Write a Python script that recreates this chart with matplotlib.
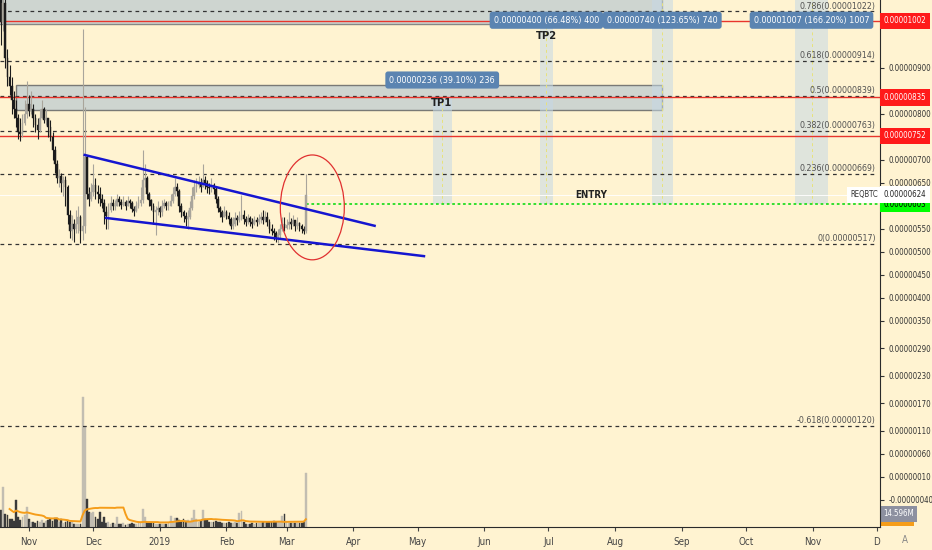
import pandas as pd
import matplotlib
matplotlib.use('Agg')
import matplotlib.pyplot as plt
import matplotlib.dates as mdates
import matplotlib.transforms as mtransforms
from matplotlib import font_manager
from matplotlib.patches import Rectangle, Ellipse

# narrow font if there is one, else Liberation Sans
has_cond = any(f.name == 'DejaVu Sans' and f.stretch == 'condensed'
               for f in font_manager.fontManager.ttflist)
if has_cond:
    plt.rcParams['font.family'] = ['DejaVu Sans']
    plt.rcParams['font.stretch'] = 'condensed'
    fs = 1.0
else:
    plt.rcParams['font.family'] = ['Liberation Sans', 'DejaVu Sans']
    fs = 0.92

# REQ/BTC daily candles, prices in satoshi (1e-8 BTC)
start_day = '2018-10-19'
first_open = 1080
close = [1000, 1040, 920, 880, 860, 830, 810, 790, 760, 755,
         780, 800, 820, 805, 810, 790, 775, 765, 790, 810,
         785, 790, 770, 750, 720, 690, 660, 665, 650, 655,
         640, 580, 545, 560, 550, 560, 575, 545, 555, 705,
         625, 615, 630, 645, 630, 625, 615, 605, 585, 578,
         590, 605, 598, 600, 615, 608, 602, 608, 600, 610,
         605, 592, 588, 598, 605, 612, 655, 660, 625, 612,
         600, 585, 590, 595, 585, 600, 605, 598, 600, 610,
         625, 640, 632, 600, 585, 578, 570, 575, 595, 620,
         640, 645, 650, 640, 655, 648, 640, 638, 645, 635,
         615, 595, 585, 575, 585, 578, 570, 555, 560, 572,
         568, 575, 580, 570, 565, 572, 565, 560, 568, 565,
         570, 575, 568, 575, 565, 550, 545, 540, 532, 535,
         548, 560, 552, 558, 565, 560, 568, 555, 562, 555,
         548, 545, 624]
high = [1100, 1150, 1100, 940, 905, 880, 850, 830, 800, 790,
        800, 830, 870, 840, 850, 820, 800, 790, 810, 830,
        815, 810, 790, 785, 760, 730, 700, 680, 670, 665,
        665, 645, 590, 580, 570, 590, 600, 580, 985, 815,
        710, 640, 650, 690, 660, 645, 640, 625, 615, 600,
        605, 620, 615, 612, 625, 620, 615, 620, 612, 620,
        615, 610, 600, 610, 620, 640, 720, 690, 665, 630,
        615, 605, 600, 610, 600, 612, 615, 610, 610, 625,
        640, 660, 650, 635, 605, 590, 585, 590, 610, 640,
        655, 660, 665, 660, 690, 665, 655, 650, 660, 650,
        640, 620, 600, 590, 600, 590, 585, 575, 575, 585,
        580, 588, 622, 590, 578, 582, 578, 572, 578, 575,
        582, 585, 590, 588, 585, 570, 560, 552, 545, 548,
        560, 575, 575, 570, 585, 572, 580, 568, 575, 565,
        560, 555, 668]
low = [950, 980, 900, 860, 840, 800, 790, 770, 745, 740,
       750, 775, 790, 795, 800, 770, 760, 745, 760, 790,
       780, 775, 750, 740, 700, 670, 650, 640, 630, 620,
       600, 560, 530, 525, 520, 540, 540, 518, 525, 540,
       615, 600, 610, 620, 615, 605, 600, 595, 560, 550,
       548, 585, 590, 590, 600, 598, 592, 598, 590, 600,
       595, 585, 578, 585, 595, 600, 605, 640, 615, 600,
       590, 560, 537, 580, 575, 578, 595, 590, 590, 598,
       605, 620, 620, 585, 575, 565, 555, 548, 570, 590,
       615, 630, 638, 630, 640, 635, 628, 625, 630, 625,
       605, 585, 575, 565, 575, 570, 560, 548, 550, 555,
       558, 565, 568, 560, 555, 560, 555, 552, 558, 555,
       560, 562, 560, 565, 555, 540, 535, 525, 520, 518,
       530, 545, 545, 548, 550, 548, 555, 545, 550, 545,
       540, 538, 540]
# relative volume (~1.46M REQ per unit)
volume = [17, 40, 13, 12, 8, 8, 6, 27, 10, 7,
          10, 12, 20, 8, 5, 5, 4, 6, 5, 7,
          4, 6, 7, 8, 6, 9, 9, 5, 8, 4,
          5, 6, 5, 5, 3, 3, 3, 3, 130, 100,
          28, 15, 14, 15, 10, 8, 15, 5, 10, 4,
          5, 3, 4, 3, 10, 3, 3, 4, 2, 3,
          3, 4, 3, 3, 4, 5, 18, 10, 5, 4,
          4, 4, 3, 3, 3, 3, 3, 3, 4, 11,
          5, 9, 9, 7, 6, 8, 6, 7, 5, 9,
          17, 8, 5, 6, 17, 8, 7, 5, 5, 5,
          6, 5, 5, 4, 4, 4, 5, 4, 4, 5,
          4, 14, 16, 5, 3, 3, 3, 4, 3, 4,
          4, 4, 5, 4, 5, 5, 5, 6, 5, 5,
          5, 11, 13, 5, 4, 4, 4, 4, 4, 4,
          4, 5, 54]

# fibonacci retracement
fib_levels = [1022, 914, 839, 763, 669, 517, 120]
fib_ratios = ['0.786', '0.618', '0.5', '0.382', '0.236', '0', '-0.618']
red_levels = [1002, 835, 752]
entry_price = 603
last_price = 624

# price range tools (targets from the entry)
range_start = ['2019-05-08', '2019-06-27', '2019-08-18', '2019-10-24']
range_end = ['2019-05-17', '2019-07-03', '2019-08-28', '2019-11-08']
range_size = [236, 400, 740, 1007]
range_pct = [39.10, 66.48, 123.65, 166.20]

# falling wedge
upper_dates = ['2018-11-27', '2019-04-11']
upper_prices = [710, 556]
lower_dates = ['2018-12-07', '2019-05-04']
lower_prices = [573, 490]

price_ticks = [900, 800, 700, 650, 550, 500, 450, 400, 350, 290, 230, 170, 110, 60, 10, -40]
month_ticks = ['2018-11-01', '2018-12-01', '2019-01-01', '2019-02-01', '2019-03-01', '2019-04-01',
               '2019-05-01', '2019-06-01', '2019-07-01', '2019-08-01', '2019-09-01', '2019-10-01',
               '2019-11-01', '2019-12-01']
month_labels = ['Nov', 'Dec', '2019', 'Feb', 'Mar', 'Apr', 'May', 'Jun', 'Jul', 'Aug', 'Sep', 'Oct', 'Nov', 'D']


def dnum(s):
    return mdates.date2num(pd.Timestamp(s))


dates = pd.date_range(start_day, periods=len(close), freq='D')
x = mdates.date2num(dates)
opens = [first_open] + close[:-1]
up = [c >= o for c, o in zip(close, opens)]
candle_col = ['#a9a59b' if u else '#1c1c1c' for u in up]
vol_col = ['#c2bdb1' if u else '#3a3a3a' for u in up]

axis_fs = 5.7 * fs

bg = '#fff3d1'
fig = plt.figure(figsize=(9.32, 5.5), dpi=100, facecolor=bg)
ax = fig.add_axes([0, 23 / 550, 880 / 932, 527 / 550])
ax2 = ax.twinx()
ax.set_zorder(2)
ax.patch.set_visible(False)
ax2.patch.set_visible(False)

x_left = dnum(start_day) - 0.47
x_right = x_left + 880 / 2.147
ax.set_xlim(x_left, x_right)
ax.set_ylim(-99, 1047)
ax2.set_ylim(0, 527)

blend = mtransforms.blended_transform_factory(ax.transAxes, ax.transData)

# volume + moving average
ax2.bar(x, volume, width=0.85, color=vol_col, edgecolor=vol_col, linewidth=0.3)
vol_ma = pd.Series(volume).rolling(20, min_periods=5).mean()
ax2.plot(x, vol_ma, color='#f59d1a', lw=1.4)
ax2.set_yticks([])
for s in ax2.spines.values():
    s.set_visible(False)

# zones
zone_col = '#c6d0d0'
ax.add_patch(Rectangle((dnum('2018-10-10'), 995), dnum('2019-08-23') - dnum('2018-10-10'), 200,
                       fc=zone_col, ec='#777777', lw=1, alpha=0.85, zorder=1))
ax.add_patch(Rectangle((dnum('2018-10-26'), 808), dnum('2019-08-23') - dnum('2018-10-26'), 54,
                       fc=zone_col, ec='#666666', lw=1, alpha=0.85, zorder=1))

# range columns
label_y = [873, 1003, 1003, 1003]
for s, e, size, pct, ly in zip(range_start, range_end, range_size, range_pct, label_y):
    x0, x1 = dnum(s), dnum(e)
    ax.add_patch(Rectangle((x0, entry_price), x1 - x0, size, fc='#c5d8e6', ec='none',
                           alpha=0.55, zorder=1.5))
    xc = (x0 + x1) / 2
    ax.vlines(xc, entry_price, entry_price + size, colors='#e8e27a', lw=0.7,
              linestyles=(0, (3, 3)), zorder=1.6)
    ax.text(xc, ly, f'{size * 1e-8:.8f} ({pct:.2f}%) {size}', ha='center', va='center',
            fontsize=6.5 * fs, color='white', zorder=8,
            bbox=dict(boxstyle='round,pad=0.45,rounding_size=0.3', fc='#5b84b1', ec='none'))

# fib levels
for lvl, r in zip(fib_levels, fib_ratios):
    ax.axhline(lvl, xmin=0, xmax=0.995, color='#333333', lw=0.9, ls=(0, (3, 3)), zorder=2)
    ax.text(0.995, lvl + 2, f'{r}({lvl * 1e-8:.8f})', transform=blend, ha='right', va='bottom',
            fontsize=6.3 * fs, color='#505050', zorder=6)

# red levels
for lvl in red_levels:
    ax.axhline(lvl, color='#e8352c', lw=1.0, zorder=2.5)
    ax.text(1.004, lvl, f'{lvl * 1e-8:.8f}', transform=blend, ha='left', va='center',
            fontsize=axis_fs, color='white', clip_on=False, zorder=9,
            bbox=dict(boxstyle='square,pad=0.45', fc='#ff1a1a', ec='none'))

# last price line
ax.axhline(last_price, color='white', lw=0.7, alpha=0.9, zorder=1.8)

# entry
ax.hlines(entry_price, x[-1], x_right, colors='#22dd22', lw=1.3, linestyles=(0, (1.5, 1.5)), zorder=3)
ax.text(1.004, entry_price, f'{entry_price * 1e-8:.8f}', transform=blend, ha='left', va='center',
        fontsize=axis_fs, color='black', clip_on=False, zorder=9,
        bbox=dict(boxstyle='square,pad=0.45', fc='#00ff00', ec='none'))
ax.text(dnum('2019-07-21'), entry_price + 8, 'ENTRY', ha='center', va='bottom', fontsize=7 * fs,
        fontweight='bold', color='#222222', zorder=6)
ax.text(dnum('2019-05-12'), 823, 'TP1', ha='center', va='center', fontsize=8 * fs,
        fontweight='bold', color='#222222', zorder=6)
ax.text(dnum('2019-06-30'), 969, 'TP2', ha='center', va='center', fontsize=8 * fs,
        fontweight='bold', color='#222222', zorder=6)

# candles
body_lo = [min(o, c) for o, c in zip(opens, close)]
body_h = [max(abs(c - o), 2) for o, c in zip(opens, close)]
ax.vlines(x, low, high, colors=candle_col, lw=0.8, zorder=4)
ax.bar(x, body_h, bottom=body_lo, width=0.8, color=candle_col, edgecolor=candle_col,
       linewidth=0.3, zorder=5)

# wedge and circle
ax.plot([dnum(d) for d in upper_dates], upper_prices, color='#1515d0', lw=1.8, zorder=6)
ax.plot([dnum(d) for d in lower_dates], lower_prices, color='#1515d0', lw=1.8, zorder=6)
ax.add_patch(Ellipse((dnum('2019-03-13'), 596), 29.8, 228, fill=False, ec='#e03030', lw=0.9, zorder=7))

# axes
ax.yaxis.tick_right()
ax.set_yticks(price_ticks)
ax.set_yticklabels([f'{t * 1e-8:.8f}' for t in price_ticks])
ax.tick_params(axis='y', labelsize=axis_fs, colors='#333333', length=3, pad=3)
ax.set_xticks([dnum(d) for d in month_ticks])
ax.set_xticklabels(month_labels)
ax.tick_params(axis='x', labelsize=7 * fs, colors='#444444', length=3, pad=4)
for side in ['top', 'left']:
    ax.spines[side].set_visible(False)
for side in ['right', 'bottom']:
    ax.spines[side].set_color('#2a2a2a')

# current price tag
ax.text(0.998, last_price, 'REQBTC', transform=blend, ha='right', va='center', fontsize=5.6 * fs,
        color='#333333', zorder=9, bbox=dict(boxstyle='square,pad=0.45', fc='white', ec='none'))
ax.text(1.004, last_price, f'{last_price * 1e-8:.8f}', transform=blend, ha='left', va='center',
        fontsize=axis_fs, color='#222222', clip_on=False, zorder=9,
        bbox=dict(boxstyle='square,pad=0.45', fc='white', ec='none'))

# volume tags
vblend = mtransforms.blended_transform_factory(ax2.transAxes, ax2.transData)
ax2.add_patch(Rectangle((1.001, 1.5), 0.038, 6, transform=vblend, fc='#f59d1a', ec='none',
                        clip_on=False))
ax2.text(1.004, 13, '14.596M', transform=vblend, ha='left', va='center', fontsize=axis_fs,
         color='white', clip_on=False, bbox=dict(boxstyle='square,pad=0.4', fc='#8d90a0', ec='none'))

fig.text(905 / 932, 1 - 540 / 550, 'A', fontsize=7, color='#888888', ha='center', va='center')

fig.savefig('out.png', dpi=100, facecolor=bg)
